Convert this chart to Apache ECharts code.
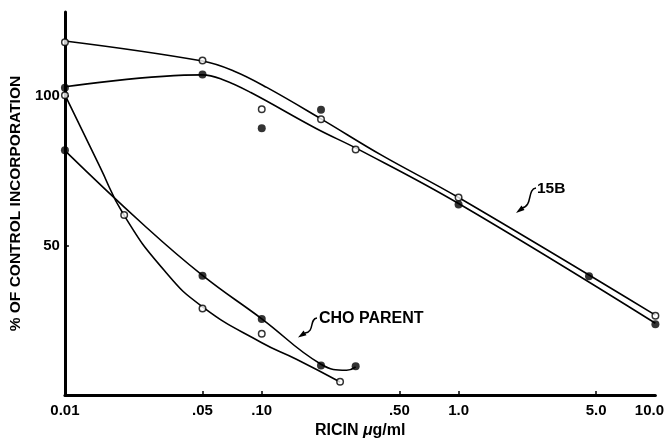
<!DOCTYPE html>
<html><head><meta charset="utf-8">
<script src="https://cdn.jsdelivr.net/npm/echarts@6/dist/echarts.min.js"></script>
<style>html,body{margin:0;padding:0;background:#fff}#c{width:667px;height:444px}</style>
</head><body><div id="c"></div>
<script>
// Tick labels (x axis is logarithmic: RICIN µg/ml)
const xTickValues = [0.01, 0.05, 0.1, 0.5, 1, 5, 10];
const xTickLabels = ['0.01', '.05', '.10', '.50', '1.0', '5.0', '10.0'];
const yTickValues = [50, 100];

// Measured points: 15B (open and filled circles)
const b15OpenX = [0.01, 0.05, 0.1, 0.2, 0.3, 1.0, 10];
const b15OpenY = [117.9, 111.8, 95.5, 92.2, 82.1, 66, 26.5];
const b15FilledX = [0.01, 0.05, 0.1, 0.2, 1.0, 4.6, 10];
const b15FilledY = [102.7, 107.1, 89.2, 95.3, 63.7, 39.7, 23.7];

// Measured points: CHO parent (open and filled circles)
const choOpenX = [0.01, 0.02, 0.05, 0.1, 0.25];
const choOpenY = [100.2, 60.2, 28.9, 20.5, 4.5];
const choFilledX = [0.01, 0.05, 0.1, 0.2, 0.3];
const choFilledY = [81.8, 39.9, 25.4, 9.9, 9.6];

// Hand-drawn fitted curves
const b15OpenCurveX = [0.01, 0.05, 0.072, 0.106, 0.2, 0.41, 1, 10];
const b15OpenCurveY = [118.3, 111.6, 108.3, 102.8, 92.3, 80, 66, 26.7];
const b15FilledCurveX = [0.01, 0.05, 0.064, 0.088, 0.19, 0.31, 1, 10];
const b15FilledCurveY = [103, 107, 105.3, 101.1, 89, 82.1, 64, 24];
const choOpenCurveX = [0.01, 0.015, 0.02, 0.032, 0.05, 0.1, 0.15, 0.25];
const choOpenCurveY = [100.3, 76.5, 60, 41.6, 29.5, 17.5, 12, 4.4];
const choFilledCurveX = [0.01, 0.025, 0.05, 0.1, 0.2, 0.27, 0.3];
const choFilledCurveY = [81.7, 57, 40, 25.5, 10.3, 8.3, 9.4];

const L = v => Math.log10(v);
const pairs = (xs, ys) => xs.map((x, i) => [L(x), ys[i]]);
const FONT = 'Liberation Sans';

function labelFor(v) {
  let best = 0, bd = Infinity;
  xTickValues.forEach((t, i) => { const d = Math.abs(L(t) - v); if (d < bd) { bd = d; best = i; } });
  return best;
}

const curve = (name, xs, ys, s) => ({
  name, type: 'line', data: pairs(xs, ys), smooth: s,
  showSymbol: false, symbol: 'none', silent: true, z: 2,
  lineStyle: { color: '#000', width: 1.6 }
});
const openPts = (name, xs, ys) => ({
  name, type: 'scatter', data: pairs(xs, ys), symbol: 'circle', symbolSize: 6.5, z: 5,
  itemStyle: { color: '#fff', borderColor: '#000', borderWidth: 1.5 }
});
const filledPts = (name, xs, ys) => ({
  name, type: 'scatter', data: pairs(xs, ys), symbol: 'circle', symbolSize: 8, z: 6,
  itemStyle: { color: '#000' }
});

const chart = echarts.init(document.getElementById('c'), null, { renderer: 'canvas' });
chart.setOption({
  backgroundColor: '#fff',
  animation: false,
  textStyle: { fontFamily: FONT },
  grid: { left: 60, right: 9, top: 12, bottom: 45, containLabel: false },
  xAxis: {
    type: 'value', min: L(0.01), max: L(10),
    name: 'RICIN {i|μ}g/ml', nameLocation: 'middle', nameGap: 26,
    nameTextStyle: {
      color: '#000', fontFamily: FONT, fontWeight: 'bold', fontSize: 16,
      rich: { i: { fontStyle: 'italic', fontFamily: FONT, fontWeight: 'bold', fontSize: 16, color: '#000' } }
    },
    axisLine: { show: true, onZero: false, lineStyle: { color: '#000', width: 3 } },
    axisTick: { show: true, inside: true, length: 4, customValues: xTickValues.slice(1, -1).map(L), lineStyle: { color: '#000', width: 1.5 } },
    axisLabel: {
      customValues: xTickValues.map(L), margin: 8, color: '#000', fontFamily: FONT, fontWeight: 'bold', fontSize: 15,
      formatter: v => { const i = labelFor(v); return i === xTickLabels.length - 1 ? '{r|' + xTickLabels[i] + '}' : xTickLabels[i]; },
      rich: { r: { padding: [0, 12, 0, 0], color: '#000', fontFamily: FONT, fontWeight: 'bold', fontSize: 15 } }
    },
    splitLine: { show: false }
  },
  yAxis: {
    type: 'value', min: 0, max: 128,
    name: '% OF CONTROL INCORPORATION', nameLocation: 'middle', nameRotate: 90, nameGap: 26,
    nameTextStyle: { color: '#000', fontFamily: FONT, fontWeight: 'bold', fontSize: 15.5 },
    axisLine: { show: true, onZero: false, lineStyle: { color: '#000', width: 3 } },
    axisTick: { show: true, inside: true, length: 4, customValues: yTickValues, lineStyle: { color: '#000', width: 1.5 } },
    axisLabel: { customValues: yTickValues, margin: 5, color: '#000', fontFamily: FONT, fontWeight: 'bold', fontSize: 15 },
    splitLine: { show: false }
  },
  graphic: [
    { type: 'text', x: 537, y: 189, silent: true,
      style: { text: '15B', fill: '#000', font: 'bold 15.5px "Liberation Sans"', align: 'left', verticalAlign: 'middle' } },
    { type: 'bezierCurve', silent: true,
      shape: { x1: 536, y1: 188, cpx1: 527, cpy1: 189, cpx2: 533, cpy2: 206, x2: 522, y2: 208 },
      style: { stroke: '#000', lineWidth: 1.5, fill: null } },
    { type: 'polygon', silent: true, shape: { points: [[516, 213], [524.5, 210], [521.5, 205.5]] }, style: { fill: '#000' } },
    { type: 'text', x: 319, y: 319, silent: true,
      style: { text: 'CHO PARENT', fill: '#000', font: 'bold 16px "Liberation Sans"', align: 'left', verticalAlign: 'middle' } },
    { type: 'bezierCurve', silent: true,
      shape: { x1: 317, y1: 318, cpx1: 309, cpy1: 319, cpx2: 315, cpy2: 332, x2: 305, y2: 333 },
      style: { stroke: '#000', lineWidth: 1.5, fill: null } },
    { type: 'polygon', silent: true, shape: { points: [[298, 337.5], [306.5, 335.2], [303.6, 330.6]] }, style: { fill: '#000' } }
  ],
  series: [
    curve('15B fit (open)', b15OpenCurveX, b15OpenCurveY, 0.4),
    curve('15B fit (filled)', b15FilledCurveX, b15FilledCurveY, 0.4),
    curve('CHO parent fit (open)', choOpenCurveX, choOpenCurveY, 0.5),
    curve('CHO parent fit (filled)', choFilledCurveX, choFilledCurveY, 0.45),
    openPts('15B (open)', b15OpenX, b15OpenY),
    filledPts('15B (filled)', b15FilledX, b15FilledY),
    openPts('CHO parent (open)', choOpenX, choOpenY),
    filledPts('CHO parent (filled)', choFilledX, choFilledY)
  ]
});
</script>
</body></html>
